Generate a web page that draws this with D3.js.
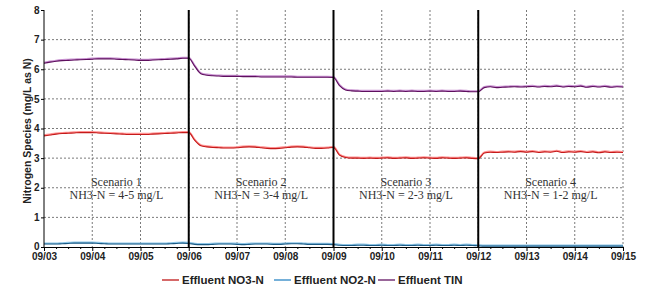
<!DOCTYPE html>
<html><head><meta charset="utf-8">
<script src="https://cdn.jsdelivr.net/npm/d3@7"></script>
<style>body{margin:0;background:#fff}svg{display:block}</style>
</head><body>
<svg id="c" width="662" height="302"></svg>
<script>
// 3-hourly samples from 09/03 00:00 to 09/15 00:00
const startDate = "2023-09-03";
const stepHours = 3;
const tickLabels = ["09/03","09/04","09/05","09/06","09/07","09/08","09/09","09/10","09/11","09/12","09/13","09/14","09/15"];
const yTicks = [0,1,2,3,4,5,6,7,8];
const scenarioNames = ["Scenario 1","Scenario 2","Scenario 3","Scenario 4"];
const scenarioNH3 = ["NH3-N = 4-5 mg/L","NH3-N = 3-4 mg/L","NH3-N = 2-3 mg/L","NH3-N = 1-2 mg/L"];
const scenarioBounds = ["09/06","09/09","09/12"];
const seriesNames = ["Effluent NO3-N","Effluent NO2-N","Effluent TIN"];
const tin = [
 6.20,6.24,6.27,6.29,6.30,6.31,6.32,6.33,
 6.34,6.35,6.35,6.35,6.34,6.33,6.32,6.31,
 6.30,6.30,6.31,6.32,6.33,6.34,6.35,6.37,
 6.37,6.10,5.85,5.80,5.78,5.77,5.76,5.76,
 5.76,5.75,5.75,5.75,5.74,5.74,5.74,5.74,
 5.74,5.74,5.73,5.73,5.73,5.73,5.73,5.73,
 5.72,5.45,5.30,5.27,5.26,5.25,5.25,5.25,
 5.25,5.26,5.25,5.26,5.25,5.26,5.25,5.25,
 5.26,5.25,5.26,5.25,5.25,5.26,5.25,5.24,
 5.24,5.38,5.41,5.38,5.39,5.40,5.41,5.40,
 5.41,5.42,5.40,5.42,5.41,5.43,5.40,5.42,
 5.41,5.43,5.39,5.42,5.40,5.42,5.39,5.41,
 5.40];
const no3 = [
 3.75,3.78,3.81,3.83,3.84,3.85,3.86,3.86,
 3.86,3.85,3.84,3.83,3.82,3.81,3.80,3.80,
 3.80,3.80,3.81,3.82,3.83,3.84,3.85,3.86,
 3.86,3.60,3.42,3.38,3.36,3.35,3.34,3.34,
 3.35,3.37,3.38,3.37,3.35,3.33,3.32,3.33,
 3.35,3.37,3.38,3.37,3.35,3.33,3.33,3.34,
 3.36,3.10,3.02,3.00,3.00,2.99,3.00,2.99,
 3.00,3.01,2.99,3.00,3.01,2.99,3.00,3.01,
 3.00,2.99,3.01,3.00,2.99,3.00,3.01,2.99,
 2.98,3.17,3.20,3.19,3.20,3.21,3.20,3.22,
 3.20,3.22,3.19,3.21,3.20,3.23,3.19,3.21,
 3.20,3.22,3.19,3.21,3.18,3.21,3.19,3.20,
 3.19];
const no2 = [
 0.10,0.10,0.10,0.11,0.12,0.13,0.13,0.13,
 0.13,0.12,0.11,0.10,0.10,0.10,0.10,0.10,
 0.10,0.10,0.10,0.10,0.10,0.11,0.12,0.13,
 0.12,0.09,0.08,0.08,0.09,0.10,0.10,0.10,
 0.09,0.08,0.09,0.10,0.10,0.10,0.09,0.09,
 0.10,0.11,0.11,0.10,0.09,0.09,0.09,0.09,
 0.08,0.06,0.05,0.05,0.06,0.06,0.05,0.05,
 0.06,0.05,0.05,0.06,0.05,0.05,0.06,0.05,
 0.05,0.06,0.05,0.05,0.06,0.05,0.06,0.05,
 0.04,0.03,0.03,0.03,0.03,0.03,0.03,0.03,
 0.03,0.03,0.03,0.03,0.03,0.03,0.03,0.03,
 0.03,0.03,0.03,0.03,0.03,0.03,0.03,0.03,
 0.03];

const svg = d3.select("#c");
const m = {l:44, r:662-623, t:10, b:302-247};
const W = 662, H = 302;
const parse = d3.timeParse("%Y-%m-%d");
const t0 = parse(startDate);
const fmt = d3.timeFormat("%m/%d");
const x = d3.scaleTime().domain([t0, d3.timeDay.offset(t0,12)]).range([m.l, W-m.r]);
const y = d3.scaleLinear().domain([0,8]).range([H-m.b, m.t]);
const dateOf = i => d3.timeHour.offset(t0, i*stepHours);
const labelDate = s => { const d = new Date(t0); d.setMonth(+s.slice(0,2)-1); d.setDate(+s.slice(3)); return d; };
const sans = "Arial, 'Liberation Sans', sans-serif";

// grid
const days = tickLabels.map(labelDate);
svg.append("g").selectAll("line").data([1,2,3,4,5,6,7]).join("line")
  .attr("x1",m.l).attr("x2",W-m.r).attr("y1",d=>y(d)).attr("y2",d=>y(d))
  .attr("stroke","#7a7a7a").attr("stroke-width",1).attr("stroke-dasharray","2,2");
svg.append("g").selectAll("line").data(days.slice(1)).join("line")
  .attr("x1",d=>x(d)).attr("x2",d=>x(d)).attr("y1",m.t).attr("y2",H-m.b)
  .attr("stroke","#7a7a7a").attr("stroke-width",1).attr("stroke-dasharray","2,2");

// scenario text
const blocks = [0,3,6,9];
const tg = svg.append("g").attr("font-family","'Liberation Serif','Times New Roman',serif").attr("font-size","12px").attr("fill","#333").attr("text-anchor","middle");
blocks.forEach((b,i)=>{
  const cx = x(d3.timeHour.offset(t0,(b+1.5)*24));
  tg.append("text").attr("x",cx).attr("y",186).text(scenarioNames[i]);
  tg.append("text").attr("x",cx).attr("y",199).text(scenarioNH3[i]);
});

// lines
const line = d3.line().x((d,i)=>x(dateOf(i))).y(d=>y(d)).curve(d3.curveMonotoneX);
const styles = [
  {data:no3, light:"#ff9090", dark:"#c41a1a"},
  {data:no2, light:"#8cc4e6", dark:"#1c5c86"},
  {data:tin, light:"#c890d0", dark:"#5e105e"}
];
styles.forEach(s=>{
  svg.append("path").attr("d",line(s.data)).attr("fill","none").attr("stroke",s.light).attr("stroke-width",1.8).attr("transform","translate(0,-0.7)");
  svg.append("path").attr("d",line(s.data)).attr("fill","none").attr("stroke",s.dark).attr("stroke-width",1.1);
});

// scenario dividers
svg.append("g").selectAll("line").data(scenarioBounds.map(labelDate)).join("line")
  .attr("x1",d=>x(d)).attr("x2",d=>x(d)).attr("y1",m.t).attr("y2",H-m.b)
  .attr("stroke","#000").attr("stroke-width",2);

// axes
const xAxis = d3.axisBottom(x).tickValues(days).tickFormat(fmt).tickSize(4).tickPadding(2);
const gx = svg.append("g").attr("transform",`translate(0,${H-m.b})`).call(xAxis);
gx.select(".domain").attr("stroke","#000");
gx.selectAll("text").attr("font-family",sans).attr("font-weight","bold").attr("font-size","10px").attr("fill","#222");
const minor = d3.timeHour.every(6).range(t0, d3.timeDay.offset(t0,12)).filter(d=>d.getHours()!==0);
svg.append("g").attr("transform",`translate(0,${H-m.b})`).call(d3.axisBottom(x).tickValues(minor).tickFormat("").tickSize(2))
  .select(".domain").remove();
const yAxis = d3.axisLeft(y).tickValues(yTicks).tickFormat(d3.format("d")).tickSize(3).tickPadding(1.5);
const gy = svg.append("g").attr("transform",`translate(${m.l},0)`).call(yAxis);
gy.select(".domain").attr("stroke","#000").attr("d",`M0,${y(8)}V${y(0)}`);
gy.selectAll("text").attr("font-family",sans).attr("font-weight","bold").attr("font-size","10px").attr("fill","#222");
gy.selectAll(".tick").filter(d=>d===0).select("text").attr("dy","0.2em");

svg.append("text").attr("transform",`translate(31,131) rotate(-90)`)
  .attr("text-anchor","middle").attr("font-family",sans)
  .attr("font-weight","bold").attr("font-size","10.5px").attr("fill","#222").text("Nitrogen Species (mg/L as N)");

// legend
const leg = [{x:162, c:"#c01818"},{x:274, c:"#2a86c4"},{x:378, c:"#621462"}];
const lg = svg.append("g");
leg.forEach((l,i)=>{
  lg.append("line").attr("x1",l.x).attr("x2",l.x+17).attr("y1",280).attr("y2",280).attr("stroke",l.c).attr("stroke-width",1.3);
  lg.append("text").attr("x",l.x+20).attr("y",284).attr("font-family",sans)
    .attr("font-weight","bold").attr("font-size","11.5px").attr("fill","#222").text(seriesNames[i]);
});
</script>
</body></html>
